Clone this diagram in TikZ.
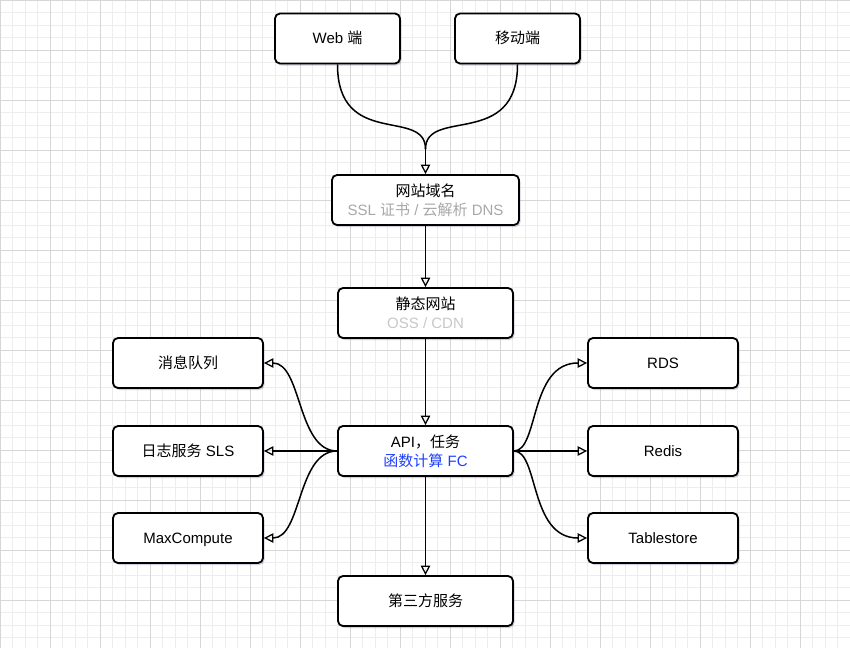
\documentclass[tikz,border=0pt]{standalone}
\usepackage{fontspec}
\setmainfont{Liberation Sans}
\newfontfamily\cjkf{Noto Sans CJK SC}
\usetikzlibrary{arrows.meta,shadows,calc}
\definecolor{gridminor}{HTML}{EDEDED}
\definecolor{gridmajor}{HTML}{D6D6D6}
\definecolor{subgray}{HTML}{A8A8A8}
\definecolor{palegray}{HTML}{C8C8C8}
\definecolor{fcblue}{HTML}{1F3FFF}
\definecolor{shadowblue}{HTML}{4A4A80}
\begin{document}
\begin{tikzpicture}[x=1pt,y=-1pt,
  box/.style={draw=black, line width=1.8pt, rounded corners=5pt, fill=white,
    minimum height=50pt, inner sep=0pt, align=center,
    font=\fontsize{15}{19}\selectfont,
    drop shadow={shadow xshift=1.5pt, shadow yshift=-2pt, fill=shadowblue, opacity=0.25}},
  oneline/.style={box, text height=12pt, text depth=1.2pt},
  conn/.style={line width=1.5pt, -{Triangle[open,length=9.5pt,width=9.5pt,line width=1.3pt]}},
  plain/.style={line width=1.5pt},
  gridmin/.style={gridminor, line width=0.9pt},
  gridmaj/.style={gridmajor, line width=0.9pt}
]
\useasboundingbox (0,0) rectangle (850,648);
\fill[white] (0,0) rectangle (850,648);
% grid
\foreach \i in {0,...,68} {
  \draw[gridmin] ({\i*12.5},0) -- ({\i*12.5},648);
}
\foreach \j in {0,...,51} {
  \draw[gridmin] (0,{\j*12.5}) -- (850,{\j*12.5});
}
\foreach \i in {0,...,17} {
  \draw[gridmaj] ({\i*50},0) -- ({\i*50},648);
}
\foreach \j in {0,...,12} {
  \draw[gridmaj] (0,{\j*50}) -- (850,{\j*50});
}
% nodes
\node[oneline, minimum width=125pt] (web) at (337.5,38.5) {Web {\cjkf 端}};
\node[oneline, minimum width=125pt] (mob) at (517.5,38.5) {{\cjkf 移动端}};
\node[box, minimum width=187pt] (dom) at (425.5,200) {{\cjkf 网站域名}\\{\color{subgray}SSL {\cjkf 证书} / {\cjkf 云解析} DNS}};
\node[box, minimum width=175pt] (stat) at (425.5,313) {{\cjkf 静态网站}\\{\color{palegray}OSS / CDN}};
\node[box, minimum width=175pt] (api) at (425.5,451) {API{\cjkf ，任务}\\{\color{fcblue}{\cjkf 函数计算} FC}};
\node[oneline, minimum width=175pt] (third) at (425.5,601) {{\cjkf 第三方服务}};
\node[oneline, minimum width=150pt] (mq) at (188,363) {{\cjkf 消息队列}};
\node[oneline, minimum width=150pt] (log) at (188,451) {{\cjkf 日志服务} SLS};
\node[oneline, minimum width=150pt] (mc) at (188,538) {MaxCompute};
\node[oneline, minimum width=150pt] (rds) at (663,363) {RDS};
\node[oneline, minimum width=150pt] (redis) at (663,451) {Redis};
\node[oneline, minimum width=150pt] (ts) at (663,538) {Tablestore};
\coordinate (merge) at ($(dom.north)+(0,-25)$);
% connectors
\draw[plain] (web.south) .. controls +(0,85) and +(0,-42) .. (merge);
\draw[plain] (mob.south) .. controls +(0,85) and +(0,-42) .. (merge);
\draw[conn] (merge) -- (dom.north);
\draw[conn] (dom.south) -- (stat.north);
\draw[conn] (stat.south) -- (api.north);
\draw[conn] (api.south) -- (third.north);
\draw[conn] (api.west) -- (log.east);
\draw[conn] (api.west) .. controls +(-40,0) and +(38,0) .. (mq.east);
\draw[conn] (api.west) .. controls +(-40,0) and +(38,0) .. (mc.east);
\draw[conn] (api.east) -- (redis.west);
\draw[conn] (api.east) .. controls +(25,0) and +(-58,0) .. (rds.west);
\draw[conn] (api.east) .. controls +(25,0) and +(-58,0) .. (ts.west);
\end{tikzpicture}
\end{document}
